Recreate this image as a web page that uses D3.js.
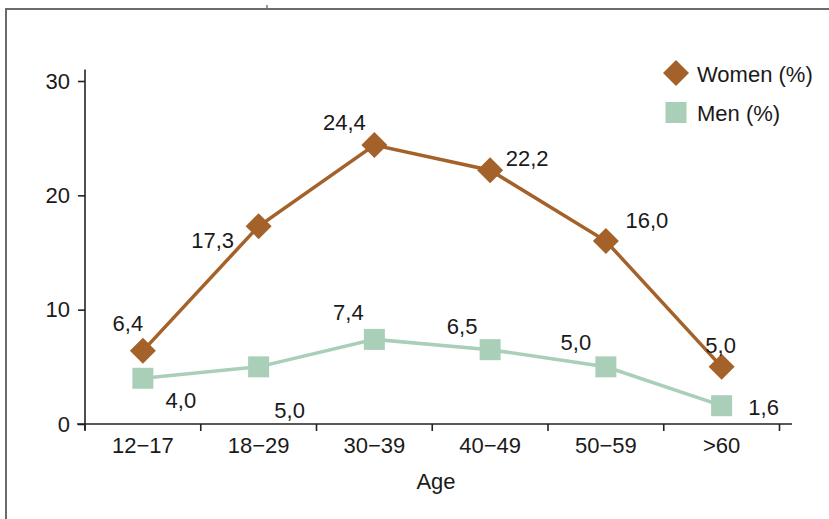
<!DOCTYPE html>
<html>
<head>
<meta charset="utf-8">
<script src="https://cdn.jsdelivr.net/npm/d3@7"></script>
<style>
  body { margin: 0; background: #fff; }
  svg { font-family: "Liberation Sans", Arial, sans-serif; }
</style>
</head>
<body>
<script>
((() => {

// data
let ages = ['12\u201317', '18\u201329', '30\u201339', '40\u201349', '50\u201359', '>60'];
let ageLabels = ['12\u221217', '18\u221229', '30\u221239', '40\u221249', '50\u221259', '>60'];
let women = [6.4, 17.3, 24.4, 22.2, 16.0, 5.0];
let men = [4.0, 5.0, 7.4, 6.5, 5.0, 1.6];
let yTicks = [0, 10, 20, 30];

let width = 829,
  height = 519;

let svg = d3.select('body')
  .append('svg')
    .attr('width', width)
    .attr('height', height);

// frame
svg.append('path')
  .attr('d', 'M6,520 L6,9 L830,9')
  .attr('fill', 'none')
  .attr('stroke', '#6b6b6b')
  .attr('stroke-width', 2);
svg.append('line')
  .attr('x1', 267).attr('x2', 267).attr('y1', 5).attr('y2', 8)
  .attr('stroke', '#333');

// scales
let yScale = d3.scaleLinear()
  .domain([0, 30])
  .range([424, 81]);

let xScale = d3.scaleBand()
  .domain(ages)
  .range([85, 779.5]);

let cx = d => xScale(d) + xScale.bandwidth() / 2;
let fs = '22px';
let ink = '#1a1a1a';

// y axis
let yAxis = svg.append('g')
  .attr('transform', 'translate(85,0)')
  .call(d3.axisLeft(yScale).tickValues(yTicks).tickSize(7).tickSizeOuter(0).tickPadding(8));
yAxis.select('.domain').attr('stroke', '#222').attr('stroke-width', 1.6)
  .attr('d', `M0,${yScale(0) + 6}V${yScale(31)}`);

// x axis
let xAxis = svg.append('g')
  .attr('transform', `translate(0,${yScale(0)})`)
  .call(d3.axisBottom(xScale).tickValues([]).tickSizeOuter(0));
xAxis.select('.domain').attr('stroke', '#222').attr('stroke-width', 1.6)
  .attr('d', 'M77,0H792');

// x ticks at band edges
let edges = ages.map(d => xScale(d)).concat([xScale.range()[1]]);
xAxis.selectAll('.edge')
  .data(edges)
  .enter()
  .append('line')
    .attr('x1', d => d).attr('x2', d => d)
    .attr('y1', 0).attr('y2', 7)
    .attr('stroke', '#222')
    .attr('stroke-width', 1.6);

xAxis.selectAll('.lab')
  .data(ages)
  .enter()
  .append('text')
    .attr('x', d => cx(d))
    .attr('y', 29)
    .attr('text-anchor', 'middle')
    .attr('fill', ink)
    .style('font-size', fs)
    .text((d, i) => ageLabels[i]);

[yAxis, xAxis].forEach(a => a.selectAll('.tick line').attr('stroke', '#222').attr('stroke-width', 1.6));
yAxis.selectAll('.tick text').style('font-size', fs).attr('fill', ink);

svg.append('text')
  .attr('x', 436)
  .attr('y', 489)
  .attr('text-anchor', 'middle')
  .style('font-size', fs)
  .attr('fill', ink)
  .text('Age');

let womenColor = '#a4622a',
  menColor = '#a9cfb9';

let line = d3.line()
  .x((d, i) => cx(ages[i]))
  .y(d => yScale(d));

// men
svg.append('path')
  .attr('d', line(men))
  .attr('fill', 'none')
  .attr('stroke', menColor)
  .attr('stroke-width', 3.5);
svg.selectAll('.men')
  .data(men)
  .enter()
  .append('rect')
    .attr('x', (d, i) => cx(ages[i]) - 10.5)
    .attr('y', d => yScale(d) - 10.5)
    .attr('width', 21)
    .attr('height', 21)
    .attr('fill', menColor);

// women
svg.append('path')
  .attr('d', line(women))
  .attr('fill', 'none')
  .attr('stroke', womenColor)
  .attr('stroke-width', 3.5);
let diamond = s => `M0,${-s}L${s},0L0,${s}L${-s},0Z`;
svg.selectAll('.women')
  .data(women)
  .enter()
  .append('path')
    .attr('d', diamond(13))
    .attr('transform', (d, i) => `translate(${cx(ages[i])},${yScale(d)})`)
    .attr('fill', womenColor);

// value labels (offsets from point, baseline)
let fmt = v => v.toFixed(1).replace('.', ',');
let womenOff = [[-15, -20], [-46, 22], [-30, -15], [37, -4], [41, -13], [-1, -14]];
let menOff = [[38, 30], [31, 51], [-26, -19], [-28, -16], [-30, -17], [42, 9]];

svg.selectAll('.wlab')
  .data(women)
  .enter()
  .append('text')
    .attr('x', (d, i) => cx(ages[i]) + womenOff[i][0])
    .attr('y', (d, i) => yScale(d) + womenOff[i][1])
    .attr('text-anchor', 'middle')
    .style('font-size', fs)
    .attr('fill', ink)
    .text(fmt);

svg.selectAll('.mlab')
  .data(men)
  .enter()
  .append('text')
    .attr('x', (d, i) => cx(ages[i]) + menOff[i][0])
    .attr('y', (d, i) => yScale(d) + menOff[i][1])
    .attr('text-anchor', 'middle')
    .style('font-size', fs)
    .attr('fill', ink)
    .text(fmt);

// legend
let legend = svg.append('g');
legend.append('path')
  .attr('d', diamond(13))
  .attr('transform', 'translate(676,73)')
  .attr('fill', womenColor);
legend.append('text')
  .attr('x', 697).attr('y', 82)
  .style('font-size', fs).attr('fill', ink)
  .text('Women (%)');
legend.append('rect')
  .attr('x', 665.5).attr('y', 102).attr('width', 21).attr('height', 21)
  .attr('fill', menColor);
legend.append('text')
  .attr('x', 697).attr('y', 121)
  .style('font-size', fs).attr('fill', ink)
  .text('Men (%)');

})());
</script>
</body>
</html>
